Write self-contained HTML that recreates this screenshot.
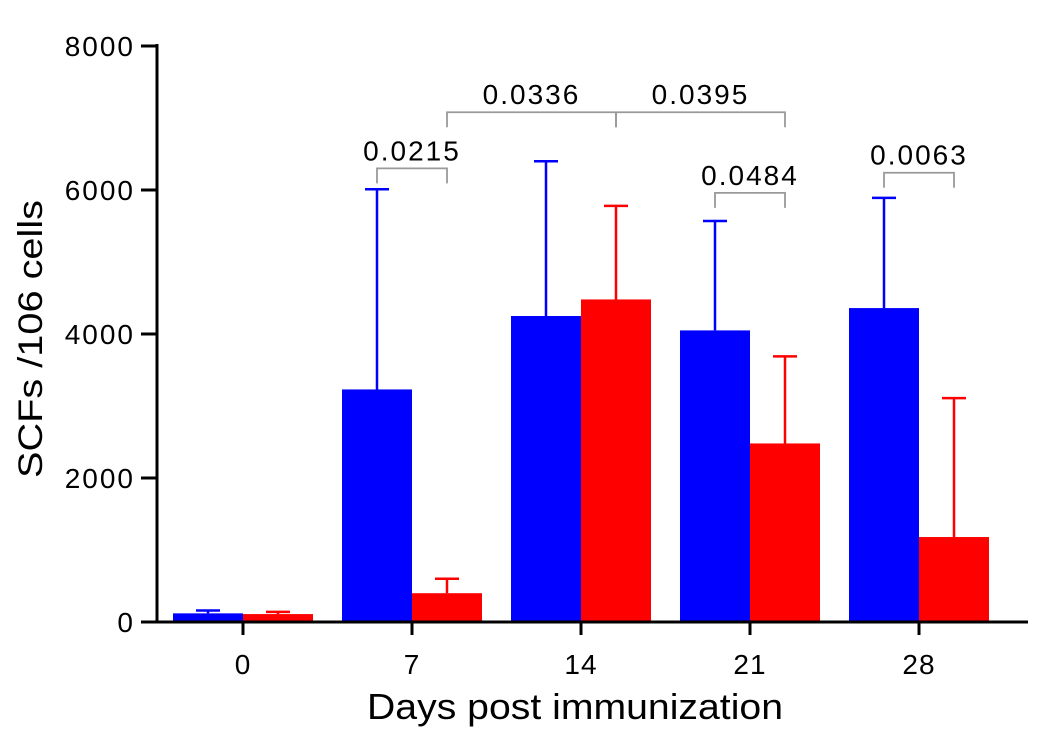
<!DOCTYPE html>
<html><head><meta charset="utf-8"><style>
html,body{margin:0;padding:0;background:#fff;}
svg{display:block;font-family:"Liberation Sans",sans-serif;}
</style></head><body>
<svg id="chart" width="1041" height="746"></svg>
<script>
const categories=["0","7","14","21","28"];
const blueValues=[120,3230,4250,4050,4360];
const blueErr=[160,6010,6400,5570,5890];
const redValues=[110,400,4480,2480,1180];
const redErr=[140,600,5780,3690,3110];
const yTicks=[0,2000,4000,6000,8000];
const sigLabels=["0.0215","0.0336","0.0395","0.0484","0.0063"];
const sigFrom=[[1,0],[1,1],[2,1],[3,0],[4,0]];
const sigTo=[[1,1],[2,1],[3,1],[3,1],[4,1]];
const sigLevel=[6300,7080,7080,5960,6240];

const svg=document.getElementById('chart');
const NS='http://www.w3.org/2000/svg';
const y=v=>622-v*0.072;
const groupX=i=>243+i*169;
const barX=(i,s)=>groupX(i)-70+s*70;
const barC=(i,s)=>barX(i,s)+35;
function mk(tag,attrs,parent){const e=document.createElementNS(NS,tag);for(const k in attrs)e.setAttribute(k,attrs[k]);(parent||svg).appendChild(e);return e;}

[[blueValues,blueErr,'#0000ff'],[redValues,redErr,'#ff0000']].forEach(([vals,errs,col],s)=>{
  vals.forEach((v,i)=>{
    const r=mk('rect',{x:barX(i,s),y:y(v),width:70,height:622-y(v),fill:col});
    
    
    const g=mk('g',{stroke:col,'stroke-width':2.5});
    
    
    mk('line',{x1:barC(i,s),x2:barC(i,s),y1:y(v),y2:y(errs[i])},g);
    mk('line',{x1:barC(i,s)-12,x2:barC(i,s)+12,y1:y(errs[i]),y2:y(errs[i])},g);
  });
});

const ax=mk('g',{stroke:'#000','stroke-width':3});


mk('line',{x1:157,x2:157,y1:44,y2:623.5},ax);
mk('line',{x1:155.5,x2:1028,y1:622,y2:622},ax);
yTicks.forEach(t=>{
  mk('line',{x1:141,x2:157,y1:y(t),y2:y(t)},ax);
  const tx=mk('text',{x:135,y:y(t)+10,'text-anchor':'end','font-size':28,'letter-spacing':2,fill:'#000'});
  tx.textContent=t;
  
  
});
categories.forEach((c,i)=>{
  mk('line',{x1:groupX(i),x2:groupX(i),y1:622,y2:635},ax);
  const tx=mk('text',{x:groupX(i),y:674,'text-anchor':'middle','font-size':28,'letter-spacing':1,fill:'#000'});
  tx.textContent=c;
  
  
});

sigLabels.forEach((l,k)=>{
  const x1=barC(sigFrom[k][0],sigFrom[k][1]), x2=barC(sigTo[k][0],sigTo[k][1]);
  const yy=y(sigLevel[k]);
  const p=mk('path',{d:`M${x1},${yy+15}V${yy}H${x2}V${yy+15}`,fill:'none',stroke:'#999','stroke-width':1.8});
  
  
  const t=mk('text',{x:(x1+x2)/2,y:yy-8,'text-anchor':'middle','font-size':28,'letter-spacing':2,fill:'#000'});
  t.textContent=l;
  
  
});

const xt=mk('text',{x:367,y:719,'font-size':36,textLength:416,lengthAdjust:'spacingAndGlyphs',fill:'#000'});
xt.textContent='Days post immunization';


const yt=mk('text',{x:0,y:0,'font-size':34,textLength:278,lengthAdjust:'spacingAndGlyphs',fill:'#000',transform:'translate(42,478) rotate(-90)'});
yt.textContent='SCFs /106 cells';


</script>
</body></html>
